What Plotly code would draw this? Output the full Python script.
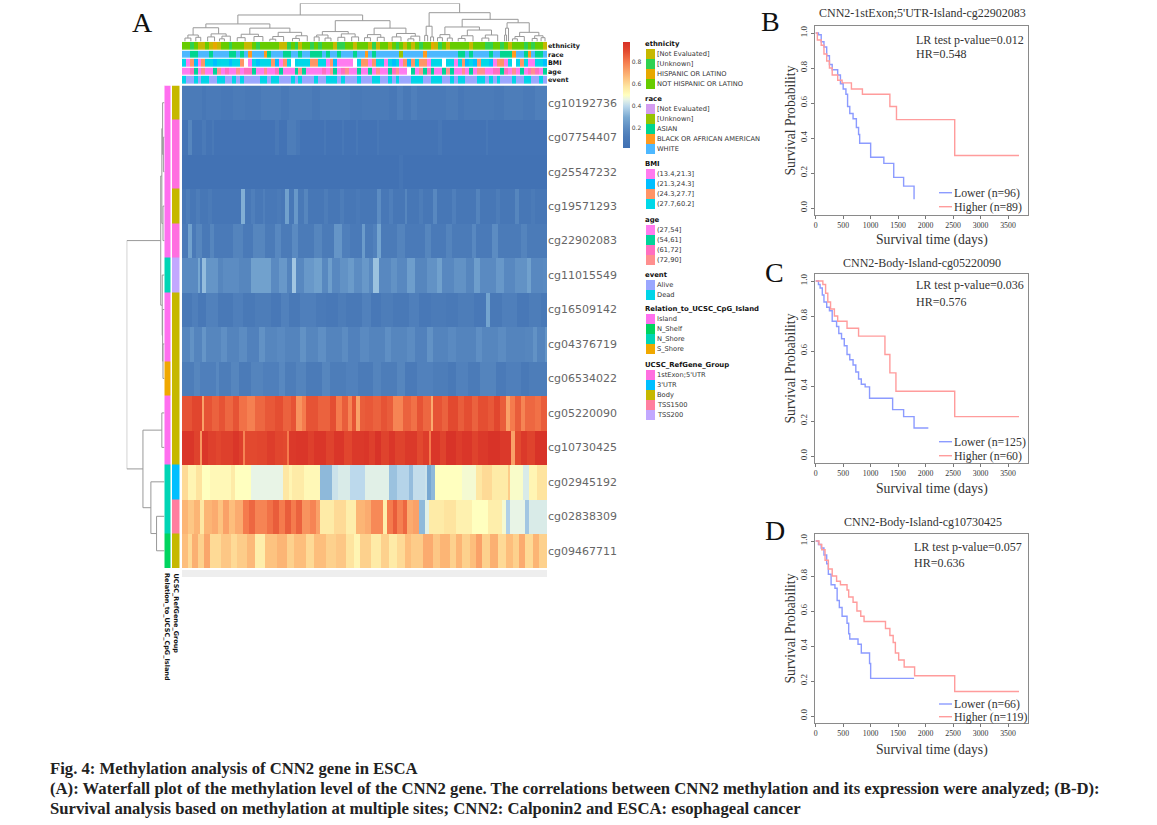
import numpy as np
import plotly.graph_objects as go

W, H = 1157, 825

# ---- heatmap, one list of (beta value, number of samples) per probe ----
n_samples = 185
row_names = ['cg10192736', 'cg07754407', 'cg25547232', 'cg19571293', 'cg22902083',
             'cg11015549', 'cg16509142', 'cg04376719', 'cg06534022', 'cg05220090',
             'cg10730425', 'cg02945192', 'cg02838309', 'cg09467711']

cg10192736 = [(.12,10),(.08,2),(.11,8),(.09,6),(.12,6),(.10,8),(.13,10),(.10,4),(.13,12),(.10,4),(.13,15),(.10,6),(.12,14),(.09,4),(.14,3),(.10,4),(.14,3),(.11,15),(.13,6),(.09,3),(.12,15),(.10,5),(.13,10),(.11,6),(.14,6)]
cg07754407 = [(.06,3),(.17,2),(.06,5),(.11,2),(.06,3),(.10,1),(.05,31),(.10,2),(.05,4),(.13,5),(.09,2),(.05,12),(.09,1),(.05,8),(.09,1),(.05,6),(.09,1),(.05,10),(.09,1),(.06,30),(.09,2),(.05,22),(.09,1),(.05,30)]
cg25547232 = [(.04,110),(.07,2),(.04,73)]
cg19571293 = [(.08,2),(.13,2),(.08,3),(.13,2),(.08,4),(.12,2),(.07,15),(.31,2),(.09,3),(.14,2),(.09,4),(.14,1),(.09,6),(.12,2),(.09,2),(.27,2),(.09,3),(.24,2),(.10,3),(.17,2),(.08,8),(.13,2),(.08,6),(.13,2),(.08,6),(.11,2),(.08,9),(.20,2),(.09,4),(.14,2),(.08,6),(.17,1),(.08,6),(.13,2),(.08,5),(.18,2),(.08,8),(.14,2),(.08,10),(.16,2),(.08,8),(.13,2),(.08,8),(.17,2),(.08,6),(.12,2),(.08,5)]
cg22902083 = [(.11,3),(.27,2),(.11,2),(.17,3),(.10,4),(.17,2),(.11,10),(.16,5),(.11,5),(.17,6),(.12,5),(.18,3),(.12,6),(.19,3),(.12,8),(.17,4),(.12,6),(.23,4),(.14,4),(.11,6),(.25,2),(.12,4),(.15,2),(.28,2),(.12,8),(.16,4),(.11,10),(.17,3),(.11,8),(.16,3),(.12,10),(.18,2),(.11,8),(.20,3),(.12,12),(.16,3),(.12,15)]
cg11015549 = [(.19,8),(.29,1),(.15,1),(.34,2),(.23,6),(.17,3),(.20,8),(.17,6),(.27,10),(.19,4),(.24,4),(.16,3),(.36,2),(.18,4),(.24,5),(.27,4),(.18,3),(.26,2),(.18,4),(.22,4),(.25,3),(.20,4),(.24,4),(.19,2),(.35,3),(.18,6),(.22,3),(.18,5),(.26,4),(.17,6),(.22,5),(.27,3),(.18,6),(.22,6),(.17,4),(.26,3),(.19,8),(.24,4),(.18,6),(.22,6),(.27,2),(.18,6)]
cg16509142 = [(.10,5),(.14,3),(.09,4),(.15,6),(.10,8),(.14,5),(.10,6),(.13,8),(.09,5),(.15,4),(.10,6),(.14,8),(.11,5),(.09,6),(.13,4),(.10,8),(.15,5),(.09,5),(.13,6),(.10,8),(.14,5),(.09,6),(.12,8),(.10,6),(.13,8),(.09,6),(.28,2),(.10,6),(.14,8),(.09,6),(.13,6)]
cg04376719 = [(.17,4),(.22,2),(.16,4),(.23,2),(.17,8),(.21,3),(.16,6),(.20,4),(.15,6),(.22,3),(.17,6),(.19,4),(.16,8),(.22,3),(.17,6),(.21,4),(.16,8),(.20,3),(.15,6),(.19,5),(.16,8),(.21,3),(.17,8),(.20,4),(.15,6),(.22,3),(.16,8),(.19,4),(.16,10),(.21,3),(.17,8),(.20,4),(.16,10)]
cg06534022 = [(.13,6),(.17,3),(.14,8),(.18,2),(.13,6),(.17,4),(.12,6),(.16,6),(.14,8),(.18,3),(.13,6),(.16,5),(.12,8),(.17,4),(.13,8),(.15,6),(.12,8),(.16,4),(.13,8),(.17,4),(.11,6),(.15,8),(.13,8),(.10,4),(.15,6),(.12,6),(.16,8),(.11,5),(.14,8),(.10,4),(.13,8)]
cg05220090 = [(.88,5),(.91,5),(.72,1),(.88,4),(.85,4),(.88,3),(.84,4),(.88,3),(.82,4),(.79,4),(.84,5),(.87,5),(.89,4),(.85,4),(.88,3),(.75,3),(.80,2),(.88,6),(.85,6),(.89,3),(.80,3),(.86,3),(.78,2),(.88,2),(.72,2),(.86,3),(.87,4),(.85,4),(.88,3),(.86,3),(.78,5),(.85,4),(.82,3),(.88,3),(.84,4),(.70,1),(.88,5),(.85,3),(.90,5),(.86,3),(.89,4),(.85,3),(.89,5),(.87,3),(.91,3),(.86,3),(.72,2),(.80,3),(.86,3),(.78,2),(.84,5),(.82,3),(.86,5)]
cg10730425 = [(.96,6),(.92,3),(.74,1),(.96,3),(.93,4),(.91,3),(.93,6),(.96,3),(.93,2),(.78,1),(.90,6),(.91,5),(.94,4),(.91,4),(.90,2),(.80,1),(.95,4),(.96,6),(.93,3),(.96,6),(.92,4),(.96,5),(.91,4),(.95,6),(.96,3),(.93,3),(.97,3),(.92,4),(.96,3),(.92,5),(.95,6),(.90,3),(.94,3),(.80,1),(.96,5),(.92,3),(.97,5),(.94,3),(.96,5),(.92,3),(.95,5),(.97,6),(.95,6),(.72,2),(.90,3),(.95,3),(.92,4),(.97,6)]
cg02945192 = [(.60,3),(.53,4),(.58,3),(.50,4),(.52,11),(.56,2),(.50,8),(.46,16),(.57,3),(.53,2),(.56,6),(.52,8),(.33,6),(.42,3),(.44,6),(.40,8),(.45,12),(.35,4),(.39,6),(.34,2),(.41,6),(.42,1),(.29,2),(.33,2),(.50,14),(.48,7),(.57,3),(.60,5),(.56,8),(.63,1),(.49,7),(.44,3),(.53,4),(.58,6)]
cg02838309 = [(.68,3),(.64,3),(.68,3),(.57,2),(.68,4),(.70,3),(.65,3),(.72,3),(.66,3),(.70,4),(.80,3),(.84,3),(.78,6),(.82,3),(.86,3),(.80,3),(.86,3),(.80,3),(.85,3),(.75,4),(.78,3),(.72,2),(.56,7),(.60,6),(.55,5),(.68,5),(.70,3),(.77,6),(.55,2),(.80,3),(.86,2),(.79,3),(.84,2),(.70,3),(.72,3),(.33,3),(.45,2),(.56,8),(.58,6),(.54,8),(.50,8),(.55,7),(.48,2),(.38,2),(.46,8),(.36,2),(.44,9)]
cg09467711 = [(.66,3),(.60,2),(.69,3),(.62,3),(.71,3),(.60,6),(.64,5),(.60,3),(.63,5),(.67,4),(.55,5),(.65,6),(.68,5),(.62,4),(.66,6),(.60,4),(.66,6),(.62,5),(.64,5),(.58,4),(.53,3),(.62,6),(.56,5),(.62,4),(.56,4),(.60,4),(.66,3),(.63,6),(.70,5),(.64,4),(.68,5),(.62,3),(.68,3),(.62,4),(.66,3),(.72,3),(.62,4),(.69,4),(.60,4),(.66,4),(.62,3),(.70,3),(.60,4),(.68,3),(.62,4),(.67,3),(.61,3)]

heat_rows = [cg10192736, cg07754407, cg25547232, cg19571293, cg22902083, cg11015549, cg16509142,
             cg04376719, cg06534022, cg05220090, cg10730425, cg02945192, cg02838309, cg09467711]

# ---- annotation bars: one digit per category, x = missing ----
ethnicity_bar = '33130030203313330031333330013103313133301133033' + '30103303130303133201303333303331133130333131330'
race_bar = '44224442444422424344432444224424422242442444244' + '34244444414444434444444422424444244222344234224'
bmi_bar = '3021023319331332x03133321023x933322330210000x92' + '20239031302123220333x93032131233102203x92300331'
age_bar = '00210300130200302210030021000131000020310230010' + '01030012300x10312100131003010330022120301023201'
event_bar = '10010110011001010000110110001010001001110100010' + '00110010100011100111001011000110101000100110010'

# per probe: Relation_to_UCSC_CpG_Island, UCSC_RefGene_Group
relation_col = [0, 0, 0, 0, 0, 2, 0, 0, 3, 0, 0, 2, 2, 1]
refgene_col = [2, 0, 0, 2, 0, 4, 2, 2, 2, 2, 2, 1, 3, 2]

# ---- legends ----
ethnicity_labels = ['[Not Evaluated]', '[Unknown]', 'HISPANIC OR LATINO', 'NOT HISPANIC OR LATINO']
ethnicity_colors = ['#c6b800', '#2fd14f', '#e6a800', '#66cc00']
race_labels = ['[Not Evaluated]', '[Unknown]', 'ASIAN', 'BLACK OR AFRICAN AMERICAN', 'WHITE']
race_colors = ['#d49cf0', '#96c400', '#00d58f', '#ff9a1f', '#4db8ff']
bmi_labels = ['(13.4,21.3]', '(21.3,24.3]', '(24.3,27.7]', '(27.7,60.2]']
bmi_colors = ['#ff7bef', '#00bfff', '#ff9466', '#00d8e8']
age_labels = ['(27,54]', '(54,61]', '(61,72]', '(72,90]']
age_colors = ['#ff7bef', '#00d49a', '#ff6fc0', '#ff8f8f']
event_labels = ['Alive', 'Dead']
event_colors = ['#9aa7ff', '#00d5e8']
relation_labels = ['Island', 'N_Shelf', 'N_Shore', 'S_Shore']
relation_colors = ['#ff6fef', '#00d45f', '#00d5b5', '#f0a800']
refgene_labels = ["1stExon;5'UTR", "3'UTR", 'Body', 'TSS1500', 'TSS200']
refgene_colors = ['#ff6fe0', '#00bfff', '#c6b800', '#ff7f9f', '#c2a8ff']

# ---- dendrograms: (height, left, right), an int is that many leaves ----
col_tree = (1.0,
    (.694,
        (.46,
            (.36, (.17, (.09, 3, 3), (.11, 2, 3)), (.20, (.12, 4, 3), (.14, (.07, 2, 3), 3))),
            (.35, (.19, (.10, 4, 4), (.13, 5, 4)), (.24, (.13, (.06, 3, 3), 5), (.15, (.08, 4, 3), 5)))),
        (.545,
            (.26, (.17, (.12, 2, 3), (.09, 3, 3)), (.20, (.11, 4, 3), (.12, 4, 3))),
            (.35, (.18, (.10, 3, 3), (.11, 4, 3)), (.21, (.12, 5, 4), (.14, (.07, 3, 3), 3))))),
    (.754,
        (.40, (.16, 2, 1), (.12, 2, 1)),
        (.58,
            (.38, (.18, (.10, 3, 2), (.09, 3, 2)), (.30, (.15, (.08, 4, 3), 5), (.17, (.09, 4, 3), 6))),
            (.49, (.35, (.17, 1, 1), 1), (.24, (.13, (.07, 3, 2), 5), (.15, (.08, 3, 2), (.10, 2, 2)))))))
row_tree = (1.0,
    (.10, (.07, (.05, 1, (.03, 1, 1)), (.04, 1, 1)), (.06, 1, (.05, 1, (.04, 1, 1)))),
    (.57, (.07, 1, 1), (.36, 1, (.21, 1, 1))))

# ---- survival curves ----
ticks_days = [0, 500, 1000, 1500, 2000, 2500, 3000, 3500]
ticks_prob = [0, .2, .4, .6, .8, 1]

b_low_t = [0, 50, 100, 150, 200, 250, 300, 400, 450, 500, 550, 580, 620, 680, 740, 780, 800, 1000, 1240, 1420, 1600, 1790, 1790]
b_low_s = [1, .99, .95, .92, .87, .82, .79, .76, .71, .68, .65, .58, .54, .51, .46, .42, .37, .29, .255, .175, .125, .125, .05]
b_high_t = [0, 30, 100, 150, 200, 250, 300, 400, 480, 650, 850, 1350, 1470, 2530, 3700]
b_high_s = [1, .96, .93, .88, .84, .80, .76, .73, .715, .68, .65, .58, .505, .30, .30]

c_low_t = [0, 50, 80, 120, 150, 200, 250, 300, 380, 420, 470, 520, 570, 620, 680, 730, 780, 830, 900, 980, 1400, 1600, 1790, 2050]
c_low_s = [1, .98, .96, .92, .88, .85, .83, .77, .74, .70, .67, .63, .58, .55, .52, .48, .44, .41, .395, .33, .265, .225, .16, .16]
c_high_t = [0, 130, 180, 220, 270, 340, 400, 570, 780, 1260, 1350, 1460, 2530, 3700]
c_high_s = [1, .98, .93, .88, .84, .80, .77, .73, .685, .58, .475, .37, .225, .225]

d_low_t = [0, 50, 100, 150, 200, 230, 280, 350, 390, 430, 480, 570, 600, 620, 770, 830, 980, 1000, 1790]
d_low_s = [1, .98, .96, .92, .87, .81, .75, .73, .66, .62, .57, .53, .47, .44, .41, .36, .30, .215, .215]
d_high_t = [0, 60, 110, 170, 230, 300, 380, 450, 570, 600, 680, 750, 820, 880, 1270, 1350, 1410, 1450, 1510, 1610, 1800, 2530, 3700]
d_high_s = [1, .98, .95, .89, .84, .80, .77, .75, .72, .68, .65, .60, .57, .54, .50, .46, .42, .36, .32, .28, .23, .14, .14]

caption = ['Fig. 4: Methylation analysis of CNN2 gene in ESCA',
           '(A): Waterfall plot of the methylation level of the CNN2 gene. The correlations between CNN2 methylation and its expression were analyzed; (B-D):',
           'Survival analysis based on methylation at multiple sites; CNN2: Calponin2 and ESCA: esophageal cancer']


def px(x):
    return x / W


def py(y):
    return 1 - y / H


def dom_x(a, b):
    return [px(a), px(b)]


def dom_y(top, bottom):
    return [py(bottom), py(top)]


def expand(runs):
    vals = np.repeat([r[0] for r in runs], [r[1] for r in runs])
    return np.resize(vals, n_samples)


def walk(node, start, pos_out, h_out):
    # returns position, height and number of leaves of this subtree
    if isinstance(node, int):
        return start + node / 2, 0, node
    h, left, right = node
    pl, hl, nl = walk(left, start, pos_out, h_out)
    pr, hr, nr = walk(right, start + nl, pos_out, h_out)
    pos_out += [pl, pl, pr, pr, None]
    h_out += [hl, h, h, hr, None]
    return (pl + pr) / 2, h, nl + nr


def discrete_scale(colors):
    n = len(colors)
    scale = []
    for i, c in enumerate(colors):
        scale += [[i / n, c], [(i + 1) / n, c]]
    return scale


hidden = dict(visible=False, showgrid=False, zeroline=False, fixedrange=True)
fig = go.Figure()

# main heatmap, scale stays dark blue a long way up like the original
rdylbu = [[0, '#4070b3'], [.104, '#4b7bb8'], [.1875, '#5c8cc2'], [.29, '#7aaad2'], [.396, '#bcd9ec'],
          [.458, '#e8f4e6'], [.5, '#ffffbf'], [.58, '#fee5a0'], [.667, '#fdbe7c'], [.81, '#f57c4e'],
          [.917, '#e2492f'], [1, '#d73027']]
y_rows = np.arange(len(row_names)) + .5
fig.add_trace(go.Heatmap(
    z=np.array([expand(r) for r in heat_rows]),
    x=np.arange(n_samples) + .5, y=y_rows,
    colorscale=rdylbu, zmin=.02, zmax=.98,
    colorbar=dict(x=px(623), xanchor='left', xpad=0, y=py(148), yanchor='bottom', ypad=0,
                  lenmode='pixels', len=106, thicknessmode='pixels', thickness=7,
                  outlinewidth=0, ticks='', tickvals=[.2, .4, .6, .8],
                  tickfont=dict(family='DejaVu Sans', size=6, color='#444')),
    xaxis='x', yaxis='y'))

# top annotation bars, all palettes put together
bars = [ethnicity_bar, race_bar, bmi_bar, age_bar, event_bar]
palettes = [ethnicity_colors, race_colors, bmi_colors, age_colors, event_colors]
bar_names = ['ethnicity', 'race', 'BMI', 'age', 'event']
all_colors = ['#ffffff']
z_bars = []
for bar, pal in zip(bars, palettes):
    offset = len(all_colors)
    z_bars.append([0 if ch == 'x' else offset + int(ch) for ch in bar])
    all_colors += pal
fig.add_trace(go.Heatmap(z=z_bars, colorscale=discrete_scale(all_colors), zmin=-.5, zmax=len(all_colors) - .5,
                         showscale=False, ygap=1.2, xaxis='x2', yaxis='y2'))

# left annotation bars
side_colors = relation_colors + refgene_colors
z_side = [[r, 4 + g] for r, g in zip(relation_col, refgene_col)]
fig.add_trace(go.Heatmap(z=z_side, x=[0, 1], y=y_rows, colorscale=discrete_scale(side_colors), zmin=-.5, zmax=8.5,
                         showscale=False, xgap=1.5, xaxis='x3', yaxis='y3'))

# dendrograms
pos, hts = [], []
walk(col_tree, 0, pos, hts)
fig.add_trace(go.Scatter(x=pos, y=hts, mode='lines', line=dict(color='#999999', width=1), xaxis='x4', yaxis='y4'))
pos, hts = [], []
walk(row_tree, 0, pos, hts)
fig.add_trace(go.Scatter(x=hts, y=pos, mode='lines', line=dict(color='#999999', width=1), xaxis='x5', yaxis='y5'))

# axes of panel A
fig.update_layout(
    xaxis=dict(hidden, domain=dom_x(182, 547), range=[0, n_samples]),
    yaxis=dict(domain=dom_y(85.5, 568), range=[len(row_names), 0], side='right', anchor='x',
               tickvals=y_rows, ticktext=row_names, ticklen=0, showgrid=False, zeroline=False, showline=False,
               tickfont=dict(family='DejaVu Sans', size=11, color='#666')),
    xaxis2=dict(hidden, domain=dom_x(182, 547), range=[-.5, len(ethnicity_bar) - .5]),
    yaxis2=dict(hidden, domain=dom_y(41.8, 84.8), range=[4.5, -.5]),
    xaxis3=dict(hidden, domain=dom_x(164, 180.5), range=[-.5, 1.5]),
    yaxis3=dict(hidden, domain=dom_y(85.5, 568), range=[len(row_names), 0]),
    xaxis4=dict(hidden, domain=dom_x(182, 547), range=[0, n_samples]),
    yaxis4=dict(hidden, domain=dom_y(3.3, 41.5), range=[0, 1]),
    xaxis5=dict(hidden, domain=dom_x(126.7, 164.5), range=[1, 0]),
    yaxis5=dict(hidden, domain=dom_y(85.5, 568), range=[len(row_names), 0]),
)

# survival panels
panels = [
    ('6', 26, 215, b_low_t, b_low_s, b_high_t, b_high_s),
    ('7', 274, 463, c_low_t, c_low_s, c_high_t, c_high_s),
    ('8', 534, 723, d_low_t, d_low_s, d_high_t, d_high_s),
]
for idx, top, bottom, lt, ls, ht, hs in panels:
    fig.add_trace(go.Scatter(x=lt, y=ls, mode='lines', line=dict(color='#8c9bff', width=1.4, shape='hv'),
                             xaxis='x' + idx, yaxis='y' + idx))
    fig.add_trace(go.Scatter(x=ht, y=hs, mode='lines', line=dict(color='#ff9c9c', width=1.4, shape='hv'),
                             xaxis='x' + idx, yaxis='y' + idx))
    fig.update_layout({
        'xaxis' + idx: dict(domain=dom_x(815, 1028), range=[-13, 3864], anchor='y' + idx,
                            tickvals=ticks_days, ticks='outside', ticklen=3, tickcolor='#777',
                            mirror=True, showline=True, linecolor='#8a8a8a', linewidth=1,
                            showgrid=False, zeroline=False,
                            tickfont=dict(family='Liberation Serif', size=7.8, color='#333')),
        'yaxis' + idx: dict(domain=dom_y(top, bottom), range=[-.04, 1.04], anchor='x' + idx,
                            tickvals=ticks_prob, tickformat='.1f', tickangle=-90, ticks='outside', ticklen=3,
                            tickcolor='#777', mirror=True, showline=True, linecolor='#8a8a8a', linewidth=1,
                            showgrid=False, zeroline=False,
                            tickfont=dict(family='Liberation Serif', size=9, color='#333'),
                            title=dict(text='Survival Probability', standoff=0,
                                       font=dict(family='Liberation Serif', size=13.6, color='#333'))),
    })

notes = []
shapes = []


def note(x, y, text, size, family='Liberation Serif', color='#333', xanchor='left', angle=0, yanchor='middle'):
    # left anchored annotations sit about 3px right of x, take that off
    if xanchor == 'left':
        x = x - 3
    notes.append(dict(x=px(x), y=py(y), xref='paper', yref='paper', text=text, showarrow=False,
                      xanchor=xanchor, yanchor=yanchor, textangle=angle, align='left',
                      font=dict(family=family, size=size, color=color)))


# panel letters
note(133, 23, 'A', 28, color='#111')
note(762, 22, 'B', 28, color='#111')
note(766, 272, 'C', 28, color='#111')
note(766, 530, 'D', 28, color='#111')

# survival panel texts
km_text = [
    ("CNN2-1stExon;5'UTR-Island-cg22902083", 923, 13, 'LR test p-value=0.012', 'HR=0.548', 40, 54, 917,
     'Lower (n=96)', 'Higher (n=89)', 192.7, 206.7, 240),
    ('CNN2-Body-Island-cg05220090', 922, 263, 'LR test p-value=0.036', 'HR=0.576', 285, 302, 917,
     'Lower (n=125)', 'Higher (n=60)', 441.7, 455.7, 489),
    ('CNN2-Body-Island-cg10730425', 923, 522, 'LR test p-value=0.057', 'HR=0.636', 547, 563, 915,
     'Lower (n=66)', 'Higher (n=119)', 704, 716.7, 750),
]
for title, tx, ty, lr, hr, y1, y2, xt, low, high, ly1, ly2, yt in km_text:
    note(tx, ty, title, 12, xanchor='center')
    note(xt, y1, lr, 12)
    note(xt, y2, hr, 12)
    note(955, ly1, low, 11.8)
    note(955, ly2, high, 11.8)
    note(932, yt, 'Survival time (days)', 13.7, xanchor='center')
    for ly, col in ((ly1, '#8c9bff'), (ly2, '#ff9c9c')):
        shapes.append(dict(type='line', xref='paper', yref='paper', x0=px(939), x1=px(952), y0=py(ly), y1=py(ly),
                           line=dict(color=col, width=1.4)))

# names of the top bars and the left bars
for name, y in zip(bar_names, [46, 55, 63, 72, 80]):
    note(549, y, '<b>' + name + '</b>', 6.4, family='DejaVu Sans', color='#111')
note(167, 571, '<b>Relation_to_UCSC_CpG_Island</b>', 6.5, family='DejaVu Sans', color='#111', angle=90,
     xanchor='center', yanchor='top')
note(175.5, 571, '<b>UCSC_RefGene_Group</b>', 6.5, family='DejaVu Sans', color='#111', angle=90,
     xanchor='center', yanchor='top')
shapes.append(dict(type='rect', xref='paper', yref='paper', x0=px(182), x1=px(547), y0=py(570), y1=py(577),
                   line=dict(width=0), fillcolor='#eeeeee'))

# category legends
legend_blocks = [
    ('ethnicity', ethnicity_labels, ethnicity_colors, 44),
    ('race', race_labels, race_colors, 99),
    ('BMI', bmi_labels, bmi_colors, 164),
    ('age', age_labels, age_colors, 220),
    ('event', event_labels, event_colors, 275),
    ('Relation_to_UCSC_CpG_Island', relation_labels, relation_colors, 309),
    ('UCSC_RefGene_Group', refgene_labels, refgene_colors, 365),
]
for title, labels, colors, y0 in legend_blocks:
    note(646, y0, '<b>' + title + '</b>', 6.9, family='DejaVu Sans', color='#111')
    for i, (lab, col) in enumerate(zip(labels, colors)):
        yc = y0 + 10 + 10 * i
        shapes.append(dict(type='rect', xref='paper', yref='paper', x0=px(646), x1=px(655), y0=py(yc - 5), y1=py(yc + 5),
                           line=dict(width=0), fillcolor=col))
        note(658, yc, lab, 6.7, family='DejaVu Sans', color='#333')

# caption
for line, y in zip(caption, [768, 788, 808]):
    note(51, y, '<b>' + line + '</b>', 16.7, color='#222')

fig.update_layout(width=W, height=H, autosize=False, margin=dict(l=0, r=0, t=0, b=0), showlegend=False,
                  paper_bgcolor='white', plot_bgcolor='white', annotations=notes, shapes=shapes)

fig.write_html("out.html", config={'displayModeBar': False},
               post_script="document.body.style.margin='0'")
